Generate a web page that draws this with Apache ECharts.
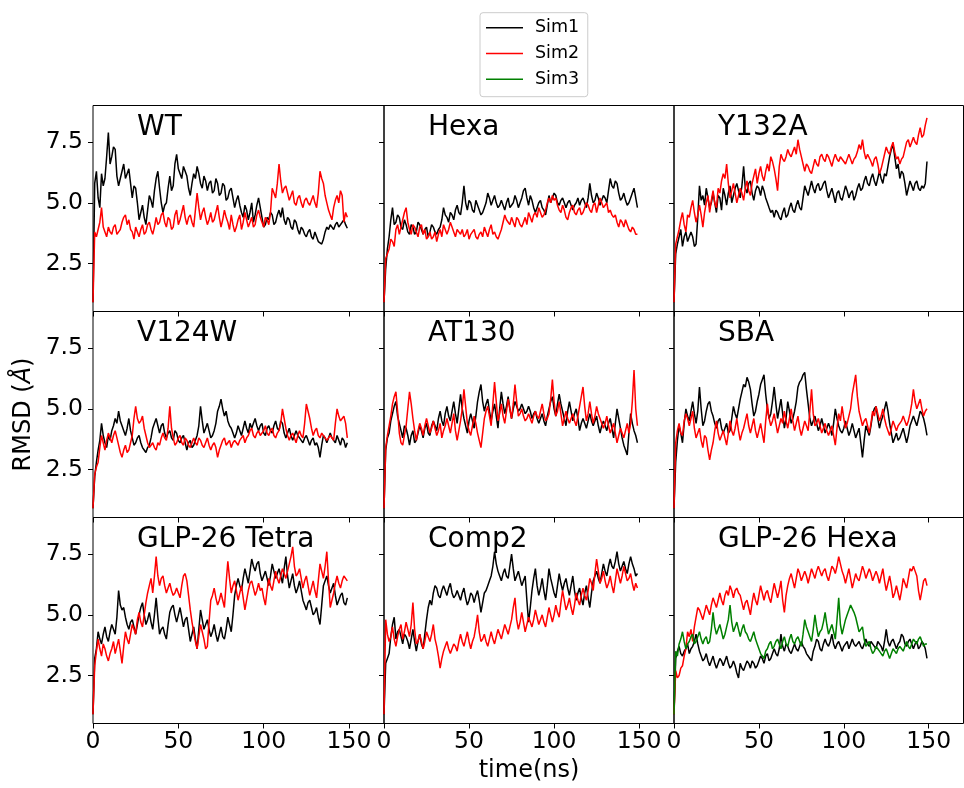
<!DOCTYPE html>
<html><head><meta charset="utf-8">
<script src="https://cdn.jsdelivr.net/npm/echarts@6/dist/echarts.min.js"></script>
<style>html,body{margin:0;padding:0;background:#fff}#c{width:964px;height:788px}</style>
</head><body><div id="c"></div>
<script>
// time (ns)
const time = [0,1,2,3,4,5,6,7,8,9,10,11,12,13,14,15,16,17,18,19,20,21,22,23,24,25,26,27,28,29,
 30,31,32,33,34,35,36,37,38,39,40,41,42,43,44,45,46,47,48,49,50,51,52,53,54,55,56,57,58,59,
 60,61,62,63,64,65,66,67,68,69,70,71,72,73,74,75,76,77,78,79,80,81,82,83,84,85,86,87,88,89,
 90,91,92,93,94,95,96,97,98,99,100,101,102,103,104,105,106,107,108,109,110,111,112,113,114,115,116,117,118,119,
 120,121,122,123,124,125,126,127,128,129,130,131,132,133,134,135,136,137,138,139,140,141,142,143,144,145,146,147,148,149];

const panelTitles = ['WT','Hexa','Y132A','V124W','AT130','SBA','GLP-26 Tetra','Comp2','GLP-26 Hexa'];
const simNames = ['Sim1','Sim2','Sim3'];
const xTicks = [0,50,100,150];
const yTicks = [2.5,5.0,7.5];

const wtSim1 = [0.9,5.8,6.3,5.2,4.8,6.2,5.7,6.0,6.9,7.9,
 6.6,6.9,7.3,7.2,6.1,5.7,6.0,6.3,6.6,6.0,
 6.2,6.4,5.8,5.2,5.7,5.6,5.0,4.3,4.6,4.9,
 4.4,4.1,4.7,5.3,5.1,4.8,5.5,6.0,6.3,5.6,
 5.0,4.6,4.9,5.0,5.6,6.1,5.5,5.7,6.6,7.0,
 6.4,6.2,6.0,6.5,6.3,6.1,5.6,5.3,5.8,6.2,
 6.0,6.5,6.2,5.8,5.6,6.1,5.9,5.5,5.8,5.9,
 5.4,5.5,6.0,5.8,5.3,5.4,5.8,5.7,5.1,5.2,
 5.5,5.6,5.2,4.8,5.1,5.3,4.9,4.6,4.4,4.9,
 4.7,4.3,4.6,5.0,4.2,4.5,4.9,5.2,4.8,4.4,
 4.0,4.1,4.4,4.3,4.6,4.5,4.1,4.2,4.5,4.7,
 4.4,4.8,4.3,4.1,4.4,4.3,4.0,3.9,4.3,4.2,
 3.9,3.7,4.0,3.9,3.7,3.6,3.8,3.9,3.6,3.5,
 3.8,3.6,3.4,3.4,3.3,3.5,3.8,4.0,3.9,4.1,
 4.0,3.9,4.1,4.2,4.0,4.0,4.2,4.3,4.1,3.95];
const wtSim2 = [0.9,3.8,3.6,3.9,4.2,4.8,4.0,3.8,3.6,4.0,
 3.8,3.7,4.0,4.1,3.7,3.8,3.9,4.2,4.4,4.5,
 4.1,4.3,3.9,3.8,3.5,4.0,3.8,3.6,3.9,4.1,
 3.7,3.8,4.1,4.2,3.9,3.7,4.0,4.4,4.1,4.2,
 4.5,4.6,4.2,4.0,4.4,4.3,3.9,4.0,4.5,4.7,
 4.1,4.3,4.6,4.9,4.4,4.1,4.4,4.5,4.2,4.0,
 4.7,5.4,4.8,4.3,4.6,4.8,4.4,4.1,4.3,4.6,
 4.2,4.3,4.6,4.9,4.4,4.0,4.3,4.7,4.4,4.2,
 3.9,4.5,4.1,3.8,4.0,4.3,4.5,3.9,4.2,4.6,
 4.3,4.0,4.2,4.4,4.0,4.1,4.5,4.7,4.4,4.2,
 4.0,4.4,4.3,4.1,4.6,5.6,5.4,5.2,5.8,6.6,
 5.9,5.4,5.6,5.7,5.4,5.1,5.3,5.5,5.0,4.9,
 5.2,5.3,5.0,4.8,5.1,5.2,5.0,4.9,5.1,5.3,
 5.0,4.8,5.4,6.3,6.0,5.8,5.3,5.0,4.7,4.5,
 4.3,4.8,5.1,5.3,5.0,5.5,5.3,4.2,4.6,4.4];
const hexaSim1 = [0.9,2.3,3.1,3.6,4.3,4.8,4.1,4.2,4.5,4.4,
 4.0,3.9,4.3,4.1,3.8,3.7,4.1,4.0,3.7,3.8,
 4.2,4.1,3.9,3.7,3.9,4.0,3.6,3.8,4.1,4.0,
 3.8,3.7,3.9,4.0,4.3,4.8,4.5,4.4,4.2,4.6,
 4.5,4.3,4.7,4.9,4.6,4.5,5.0,5.7,5.0,4.7,
 5.1,5.0,4.7,4.6,5.1,4.9,4.7,4.5,4.6,4.8,
 5.0,5.4,5.2,4.9,5.1,5.3,5.0,4.8,4.9,5.1,
 4.9,4.7,5.0,5.2,4.8,4.9,5.0,5.3,5.1,4.8,
 5.0,5.2,5.5,5.6,5.2,4.9,5.3,5.1,4.8,4.6,
 4.8,5.0,5.1,4.8,4.7,4.5,4.9,5.3,5.0,5.2,
 5.4,5.3,5.0,4.9,5.1,5.2,5.0,4.8,5.0,5.1,
 4.9,4.7,4.9,5.0,5.2,4.9,5.1,5.2,5.0,4.8,
 5.2,5.8,5.3,5.0,5.1,5.4,5.2,4.9,5.1,5.3,
 5.2,5.0,5.5,6.0,5.7,5.6,5.9,5.8,5.4,5.1,
 5.2,5.4,5.1,4.9,5.0,5.2,5.4,5.6,5.2,4.8];
const hexaSim2 = [0.9,2.7,2.9,3.1,3.5,3.4,3.2,3.9,4.1,3.7,
 4.0,4.3,4.6,4.8,4.2,3.9,3.7,4.1,4.0,3.8,
 3.6,4.0,4.1,3.7,3.9,3.5,3.6,3.8,3.5,3.6,
 3.8,3.4,3.7,3.9,3.6,4.1,3.9,3.7,3.9,4.2,
 4.0,3.8,3.6,3.9,3.8,3.7,3.9,3.6,3.7,3.9,
 3.5,3.7,3.8,3.9,3.6,3.5,3.7,3.8,3.6,4.0,
 3.8,3.6,3.9,4.1,3.7,3.8,3.6,3.5,3.7,3.9,
 4.2,4.5,4.3,4.2,4.1,4.4,4.2,4.0,4.4,4.3,
 4.1,4.0,4.2,4.4,4.1,4.6,4.4,4.2,4.5,4.6,
 4.4,4.8,4.6,4.4,4.5,4.7,5.0,5.2,5.0,5.3,
 5.1,5.2,4.9,4.7,4.6,4.9,4.7,4.4,4.3,4.6,
 4.8,4.9,4.6,4.5,4.7,4.8,4.5,4.6,4.8,5.0,
 4.9,4.7,4.6,4.9,5.0,4.6,4.9,5.2,5.0,4.8,
 4.9,5.0,4.6,4.7,4.5,4.4,4.5,4.2,4.0,4.3,
 4.2,4.0,4.3,4.1,3.9,3.8,4.0,3.9,3.7,3.7];
const y132aSim1 = [0.9,2.9,3.3,3.6,3.9,3.2,3.6,3.8,3.4,3.4,
 3.8,3.6,3.2,3.3,4.4,5.7,5.1,5.3,4.9,5.6,
 5.2,4.8,5.0,5.4,5.0,4.6,5.3,5.2,4.7,5.6,
 5.3,4.9,5.4,5.7,5.0,5.3,5.6,5.8,5.5,5.2,
 5.7,6.5,5.6,5.4,5.8,5.9,5.4,5.1,5.5,5.7,
 5.6,5.3,5.7,5.5,5.2,5.0,4.8,4.6,4.7,4.4,
 4.7,4.6,4.4,4.3,4.6,4.8,4.4,4.5,4.8,5.0,
 4.7,4.6,4.9,5.1,4.8,4.7,5.2,5.7,5.5,5.3,
 5.6,5.9,5.6,5.4,5.7,5.8,5.5,5.6,5.8,5.9,
 5.5,5.2,5.4,5.6,5.3,5.0,5.4,5.5,5.2,5.1,
 5.4,5.7,5.5,5.2,5.4,5.5,5.1,5.3,5.6,5.8,
 5.5,5.6,5.9,6.1,5.8,5.7,6.0,6.2,5.9,5.7,
 6.0,6.3,6.0,5.8,6.2,6.1,6.5,6.9,7.2,7.4,
 6.9,6.4,6.6,6.0,6.3,6.2,5.8,5.3,5.6,5.9,
 5.7,5.5,5.8,5.9,5.6,5.5,5.7,5.6,5.8,6.7];
const y132aSim2 = [0.9,3.3,3.6,3.9,4.3,4.6,4.1,3.8,4.5,4.4,
 4.8,5.1,4.6,4.2,4.5,4.9,4.5,4.0,4.6,5.0,
 5.3,4.6,5.1,5.5,5.0,4.8,5.6,5.4,5.9,6.2,
 6.0,6.6,5.8,5.2,5.5,5.8,5.4,5.0,5.3,5.6,
 5.4,5.1,5.6,5.9,5.5,5.3,5.8,6.1,6.4,5.8,
 6.2,6.5,6.1,5.9,6.3,6.6,6.3,6.9,6.7,6.4,
 6.0,5.5,6.5,7.0,6.8,6.7,6.9,7.2,7.0,6.9,
 7.1,7.3,7.0,7.6,7.2,6.9,6.6,6.3,6.6,6.5,
 6.3,6.2,6.5,6.8,6.6,6.5,6.9,7.0,6.8,6.7,
 7.0,6.9,6.7,6.5,6.8,7.0,6.8,6.7,6.9,6.9,
 6.7,6.6,6.8,7.0,6.8,6.6,6.8,6.9,7.1,7.4,
 7.2,7.6,7.1,6.8,7.0,7.0,6.7,6.5,6.8,6.9,
 6.6,6.2,6.4,6.7,7.0,7.3,7.1,7.0,7.3,7.5,
 7.1,6.8,6.9,6.6,6.8,6.9,7.2,7.5,7.6,7.3,
 7.5,7.7,7.5,7.4,7.8,8.1,7.7,7.8,8.2,8.5];
const v124wSim1 = [0.9,2.2,2.8,3.3,3.7,4.4,3.9,3.6,3.4,3.9,
 3.7,4.1,4.3,4.6,4.4,4.9,4.5,4.3,4.1,3.9,
 4.2,4.6,4.1,3.8,3.5,3.6,3.8,3.9,3.6,3.4,
 3.3,3.2,3.4,3.5,3.8,4.2,4.4,4.6,4.3,4.0,
 4.3,4.4,4.0,3.8,4.0,4.1,3.8,3.7,4.1,4.0,
 3.7,3.6,3.8,3.9,3.6,3.3,3.6,3.7,3.4,3.5,
 3.7,3.9,4.3,5.1,4.5,4.0,4.2,4.4,4.1,3.8,
 3.9,4.1,4.4,4.9,5.1,5.4,5.0,4.7,4.9,4.5,
 4.3,4.2,4.0,3.8,4.0,4.3,4.1,3.9,4.2,4.5,
 4.2,4.0,4.4,4.2,4.4,4.6,4.3,4.1,4.3,4.4,
 4.0,3.9,4.2,4.3,4.1,4.0,4.3,4.5,4.2,4.1,
 4.5,4.4,4.0,3.8,4.0,4.2,3.9,3.7,3.9,4.1,
 3.9,3.8,3.7,3.6,3.8,3.9,3.7,3.5,3.7,3.8,
 3.5,3.6,3.4,3.0,3.5,3.9,3.8,3.6,3.8,4.0,
 3.8,3.7,3.6,3.9,3.7,3.5,3.8,3.7,3.4,3.6];
const v124wSim2 = [0.9,2.3,2.6,2.8,3.4,3.9,3.6,3.3,3.7,4.0,
 3.8,3.6,3.9,4.1,3.8,3.5,3.2,3.0,3.3,3.5,
 3.2,3.3,3.6,3.9,4.6,5.1,4.6,4.4,4.5,4.7,
 4.2,3.9,3.6,3.4,3.5,3.6,3.4,3.3,3.6,3.5,
 3.8,4.0,3.8,3.7,4.2,5.1,4.2,3.8,3.5,3.6,
 3.8,3.9,3.6,3.5,3.8,3.7,3.5,3.4,3.6,3.8,
 3.6,3.5,3.8,3.7,3.5,3.4,3.6,3.8,3.5,3.3,
 3.5,3.6,3.4,3.0,3.3,3.5,3.7,3.8,3.5,3.6,
 3.7,3.4,3.6,3.7,3.6,3.5,3.7,3.8,3.9,3.6,
 3.8,3.9,4.1,4.2,3.9,3.8,4.0,4.1,3.9,3.9,
 4.1,4.3,4.0,3.9,4.1,4.2,3.9,3.8,4.0,4.1,
 4.4,5.0,4.6,4.2,3.9,3.7,3.9,4.0,3.8,3.6,
 3.9,4.1,3.9,3.8,4.4,5.2,4.9,4.6,4.2,3.9,
 4.1,4.2,3.9,3.8,4.0,4.0,3.8,3.7,3.8,3.9,
 3.8,3.7,4.4,5.0,4.7,4.5,4.6,4.7,4.4,3.8];
const at130Sim1 = [0.9,3.3,3.8,4.0,4.5,4.8,5.1,5.3,4.7,4.4,
 4.1,3.8,4.3,4.2,3.9,3.5,3.9,4.1,3.6,3.7,
 4.0,4.3,4.1,3.8,4.2,4.4,4.0,3.9,4.3,4.5,
 4.3,4.1,4.6,4.9,4.5,4.3,4.8,5.1,4.7,4.5,
 4.9,5.3,4.8,4.4,5.0,5.6,5.0,4.6,4.3,4.0,
 4.5,4.8,4.5,4.2,4.7,5.3,5.7,6.0,5.3,4.9,
 5.2,5.4,4.9,4.5,4.9,5.2,4.7,4.2,5.0,5.7,
 5.2,4.8,5.1,5.5,5.0,4.6,5.0,5.3,5.1,4.9,
 5.0,5.2,5.0,4.8,4.9,5.1,4.9,4.6,4.8,4.9,
 4.6,4.4,4.6,4.8,4.5,4.3,4.7,5.0,5.3,5.5,
 5.0,4.7,5.2,5.6,5.2,4.9,4.6,4.3,4.9,5.3,
 4.9,4.5,4.8,5.0,4.6,4.1,4.4,4.6,4.4,4.2,
 4.5,4.8,4.5,4.3,4.5,4.7,4.3,4.0,4.3,4.5,
 4.3,4.1,4.4,4.6,4.2,3.8,4.4,5.0,4.6,4.2,
 3.8,3.5,3.3,3.1,4.0,4.8,4.4,4.1,3.9,3.6];
const at130Sim2 = [0.9,3.4,3.9,4.3,4.7,5.2,5.5,5.7,4.9,4.0,
 3.6,3.5,3.9,4.3,5.0,5.7,5.2,4.6,4.1,3.7,
 4.1,4.4,4.2,3.9,4.3,4.6,4.3,4.0,4.2,4.5,
 4.2,3.9,4.1,4.4,3.8,4.1,4.3,4.6,4.3,4.0,
 4.4,4.8,4.1,3.7,4.1,4.5,5.0,5.8,5.1,4.4,
 4.1,3.9,4.3,4.7,4.4,4.0,3.7,3.4,4.0,4.6,
 4.9,5.1,4.7,4.3,5.2,6.1,5.3,4.5,4.8,5.2,
 4.7,4.4,4.9,5.4,5.0,4.6,5.2,6.0,5.3,4.7,
 4.8,5.0,4.7,4.5,4.6,4.8,4.6,4.4,4.7,4.9,
 4.7,4.6,4.9,5.2,4.8,4.5,4.6,4.8,5.4,6.2,
 5.3,4.7,4.9,5.3,4.8,4.3,4.6,4.9,4.6,4.4,
 4.6,4.8,4.5,4.3,4.7,5.1,5.5,5.9,5.1,4.5,
 4.8,5.3,4.8,4.4,4.7,5.1,4.8,4.6,4.4,4.2,
 4.4,4.7,4.3,4.0,4.2,4.4,4.0,3.6,3.9,4.2,
 4.0,3.8,4.1,4.4,4.0,4.4,5.3,6.6,5.0,4.3];
const sbaSim1 = [0.9,2.8,3.7,4.3,4.0,3.6,4.4,5.0,4.7,4.5,
 4.9,5.3,4.8,4.4,4.9,5.9,5.0,4.3,4.5,4.9,
 5.2,5.3,4.9,4.7,4.4,4.2,4.5,4.6,4.2,4.0,
 4.2,4.4,4.0,4.1,4.6,5.1,4.8,4.6,5.0,5.4,
 5.7,6.0,5.9,6.3,6.1,5.8,5.2,4.7,4.9,5.3,
 5.6,6.0,6.2,6.4,5.6,5.0,4.6,4.8,5.3,5.9,
 5.2,4.6,5.0,5.4,4.8,4.2,4.6,5.3,4.9,4.4,
 4.6,4.9,5.3,5.9,6.1,6.2,6.4,6.5,5.8,5.2,
 4.6,4.3,4.5,4.7,4.4,4.1,4.3,4.6,4.3,4.0,
 4.2,4.4,4.2,3.9,4.4,5.0,4.6,4.3,4.1,4.0,
 4.2,4.5,4.2,3.9,4.1,4.4,4.1,3.8,4.0,4.2,
 3.6,3.0,3.7,4.3,4.1,3.9,4.3,4.8,5.0,5.1,
 4.6,4.2,4.5,4.7,5.0,5.3,4.9,4.4,4.0,3.6,
 3.8,4.0,3.7,3.8,4.0,4.2,3.9,3.6,3.9,4.3,
 4.5,4.7,4.5,4.3,4.6,4.9,4.8,4.6,4.3,3.9];
const sbaSim2 = [0.9,3.6,4.1,4.4,4.0,3.9,4.5,4.8,4.6,4.3,
 4.6,4.9,4.2,3.8,4.0,4.2,3.7,3.4,3.9,3.8,
 3.3,2.9,3.3,3.6,4.1,4.5,4.0,3.7,3.9,4.1,
 3.8,3.5,4.0,4.5,4.1,3.9,4.2,4.6,4.1,3.7,
 4.0,4.2,4.5,4.8,4.3,4.0,4.3,4.6,4.1,3.8,
 4.1,4.4,4.0,3.6,4.5,5.2,4.6,4.3,4.5,4.8,
 4.4,4.0,4.3,4.6,4.4,4.9,4.5,4.2,4.6,5.0,
 4.5,4.1,4.4,4.7,4.2,3.9,4.2,4.5,4.3,4.1,
 4.9,5.8,4.8,4.3,4.4,4.6,4.3,4.0,4.2,4.4,
 4.1,3.9,4.1,4.3,3.9,3.5,4.2,4.8,4.5,5.1,
 4.6,4.2,4.4,4.7,5.0,5.6,6.0,6.4,5.5,4.9,
 4.6,4.3,4.5,4.6,4.3,4.0,4.4,4.9,4.7,5.1,
 4.8,4.5,4.7,5.0,4.6,4.3,4.1,3.9,4.2,4.5,
 4.3,4.1,4.3,4.4,4.5,4.7,4.5,4.3,4.5,4.8,
 5.2,5.8,5.3,5.0,5.2,5.4,5.0,4.7,4.9,5.0];
const tetraSim1 = [0.9,3.2,3.6,4.3,4.0,3.8,4.2,4.5,4.1,3.9,
 4.3,4.6,4.4,4.2,4.9,6.0,5.4,5.2,5.3,4.9,
 4.6,4.4,4.7,4.8,4.5,4.2,4.6,5.0,5.3,5.5,
 5.0,4.6,4.8,5.1,4.7,4.4,5.0,5.7,4.9,4.2,
 4.4,4.5,4.2,4.0,4.6,5.1,5.3,5.4,5.0,4.7,
 5.0,5.3,4.9,4.5,4.8,4.9,4.4,3.9,4.2,4.5,
 4.0,3.6,4.4,5.2,4.8,4.4,4.6,4.8,4.4,4.1,
 4.3,4.6,4.2,3.9,4.2,4.5,4.1,4.0,4.4,4.9,
 4.6,4.3,5.0,5.8,6.2,6.5,6.2,6.0,6.5,6.9,
 6.6,6.3,6.8,7.3,7.0,6.8,7.1,7.2,6.7,6.4,
 6.6,6.8,6.5,6.2,6.6,7.1,6.8,6.5,6.7,6.9,
 6.6,6.3,6.9,7.4,6.6,6.1,6.4,6.7,6.2,5.9,
 6.1,6.4,6.0,5.6,5.4,5.2,5.5,5.6,5.3,5.0,
 5.1,5.3,4.9,4.6,5.4,6.2,6.4,6.6,6.2,5.9,
 6.1,6.3,5.8,5.4,5.6,5.8,5.9,5.5,5.4,5.7];
const tetraSim2 = [0.9,2.9,3.5,4.0,3.6,3.3,3.8,3.6,3.3,3.1,
 3.4,3.6,3.9,3.4,3.7,4.0,3.5,3.0,3.7,4.3,
 4.0,3.8,4.2,4.6,4.4,4.2,4.8,5.1,4.7,4.5,
 5.0,5.5,5.9,6.2,6.5,5.9,6.6,7.4,6.6,6.2,
 6.5,6.6,6.2,5.9,6.1,6.3,6.0,5.8,5.9,6.1,
 5.9,5.7,6.2,6.6,6.7,6.4,5.8,5.2,4.7,4.3,
 3.9,3.6,4.1,4.6,4.3,4.0,3.6,3.7,4.7,5.6,
 5.8,6.1,5.7,5.4,5.6,5.9,5.6,5.3,6.3,7.2,
 6.5,5.9,6.2,6.4,6.0,5.6,5.9,6.2,5.7,5.2,
 5.6,6.0,6.3,6.4,6.1,5.8,6.0,6.3,6.0,6.1,
 5.7,5.4,6.0,6.5,6.2,6.0,6.4,6.8,6.5,6.3,
 6.6,6.9,6.7,6.5,6.8,7.1,7.4,7.8,7.0,6.6,
 6.7,6.9,6.5,6.1,6.4,6.6,6.2,5.8,6.1,6.4,
 6.0,5.7,6.4,7.1,6.8,6.5,7.0,7.6,6.4,5.3,
 5.6,5.9,6.3,6.6,6.3,6.1,6.4,6.6,6.5,6.4];
const comp2Sim1 = [0.9,3.0,3.2,3.4,4.1,4.6,4.9,4.0,4.3,4.4,
 4.1,3.8,4.2,4.1,3.9,3.6,4.0,4.4,3.9,3.5,
 3.9,4.2,3.8,3.6,4.2,4.8,5.3,5.6,5.4,5.9,
 6.2,6.1,5.8,5.7,6.0,6.2,6.0,5.8,6.1,6.3,
 5.9,5.7,5.8,6.0,5.8,5.6,5.9,6.1,5.7,5.4,
 5.6,5.9,5.8,5.5,5.8,6.0,5.6,5.1,5.5,5.9,
 6.0,6.2,6.4,6.6,7.0,7.6,7.1,6.8,6.6,6.4,
 6.7,6.9,6.6,6.5,7.0,7.5,6.9,6.4,6.6,6.8,
 6.5,6.2,6.4,6.6,5.6,4.7,5.3,6.0,6.5,6.9,
 6.2,5.8,6.1,6.5,6.0,5.6,6.2,6.9,6.5,6.2,
 5.9,5.7,6.2,6.7,6.3,6.0,6.3,6.5,6.1,5.8,
 6.2,6.6,6.0,5.6,5.9,6.1,5.7,5.4,5.9,6.2,
 5.7,5.3,5.9,6.4,6.6,6.8,6.5,6.3,6.7,7.1,
 6.8,6.6,7.0,7.3,7.0,6.9,7.2,7.6,7.1,6.8,
 7.0,7.2,6.9,6.7,7.1,7.4,7.1,6.9,6.6,6.7];
const comp2Sim2 = [0.9,4.8,4.2,3.9,4.1,4.5,4.0,3.7,4.1,4.4,
 4.6,4.0,4.3,4.7,4.4,4.1,4.6,5.5,4.4,3.8,
 3.9,4.2,3.9,3.6,3.9,4.3,4.1,3.9,4.2,4.6,
 4.0,3.7,3.3,2.8,3.2,3.5,3.7,3.9,3.6,3.4,
 3.6,3.8,3.7,3.5,3.9,4.2,3.9,3.7,4.0,4.3,
 3.9,3.6,3.9,4.1,4.5,5.0,4.3,3.9,4.0,4.2,
 3.9,3.7,4.0,4.3,4.0,3.8,4.1,4.4,4.2,4.0,
 4.3,4.6,4.4,4.2,4.5,4.8,5.3,5.7,4.8,4.4,
 4.7,5.1,4.7,4.3,4.6,4.9,4.7,4.5,4.8,5.2,
 4.9,4.6,4.8,5.0,4.7,4.5,4.9,5.3,5.0,4.7,
 5.0,5.4,5.1,4.9,5.5,6.0,5.6,5.2,5.4,5.7,
 5.3,5.0,5.4,5.9,5.6,5.4,5.8,6.1,5.8,5.6,
 6.0,6.5,6.3,6.0,6.7,7.3,6.8,6.3,6.5,6.8,
 6.4,6.1,6.3,6.6,6.2,5.9,6.4,6.9,6.6,6.3,
 6.6,7.0,6.7,6.4,6.5,6.7,6.3,6.0,6.3,6.1];
const glpHexaSim1 = [0.9,3.2,3.5,3.7,3.4,3.3,3.5,3.6,3.8,3.4,
 3.6,3.7,3.9,4.2,3.8,3.5,3.3,3.1,3.2,3.4,
 3.1,2.9,3.1,3.3,3.0,2.8,3.0,3.2,3.1,2.9,
 3.1,3.3,3.0,2.8,2.9,3.1,2.9,2.6,2.4,3.0,
 2.8,2.7,2.9,3.1,3.0,2.8,3.1,3.0,2.8,2.9,
 3.1,3.3,3.2,3.0,3.3,3.4,3.1,3.2,3.4,3.6,
 3.4,3.3,3.6,4.2,3.7,3.5,3.8,3.7,3.5,3.4,
 3.6,3.8,3.6,3.5,3.7,3.9,3.7,3.6,3.4,3.3,
 3.2,3.1,3.5,3.7,4.0,3.9,3.6,3.5,3.8,4.0,
 3.8,3.7,3.9,4.2,3.8,3.6,3.8,3.9,3.7,3.5,
 3.7,3.8,3.9,3.6,3.8,4.0,3.8,3.7,3.8,3.9,
 3.7,3.6,3.8,4.0,3.8,3.7,3.9,3.9,3.7,3.6,
 3.9,3.8,3.7,3.5,3.9,4.4,3.9,3.7,3.9,4.0,
 3.8,3.6,3.8,3.9,4.2,4.1,3.8,3.7,3.9,4.0,
 3.8,3.6,3.8,3.9,3.6,3.7,3.9,3.8,3.6,3.2];
const glpHexaSim2 = [0.9,2.7,2.4,2.5,2.8,2.9,3.3,3.6,4.3,4.1,
 4.4,3.9,4.5,4.9,5.3,5.2,5.0,4.8,5.1,5.4,
 5.2,5.0,5.4,5.7,5.5,5.3,5.6,5.9,5.6,5.4,
 5.8,6.0,5.8,6.2,6.0,5.7,6.0,6.1,5.9,5.8,
 5.5,5.2,5.5,5.6,5.3,5.0,5.5,5.9,5.6,5.4,
 5.8,6.2,5.9,5.6,5.9,6.0,5.7,5.5,5.9,6.3,
 6.0,5.7,6.0,6.4,5.6,5.1,5.8,6.2,6.5,6.7,
 6.4,6.1,6.5,6.9,6.7,6.4,6.6,6.8,6.6,6.3,
 6.6,6.9,6.7,6.5,6.8,7.0,6.8,6.6,6.8,6.9,
 6.6,6.4,6.7,7.0,6.9,6.7,7.0,7.4,7.1,6.8,
 6.6,6.3,6.6,6.9,6.5,6.1,6.4,6.7,6.5,6.4,
 6.7,7.0,6.8,6.5,6.7,6.9,6.7,6.4,6.6,6.8,
 6.6,6.3,6.6,6.9,6.4,6.0,6.3,6.6,6.2,5.7,
 5.9,6.2,5.9,5.6,6.0,6.5,6.3,6.1,6.5,6.9,
 6.8,7.0,6.8,6.6,6.0,5.6,6.0,6.4,6.5,6.2];
const glpHexaSim3 = [0.9,3.5,3.3,3.8,4.0,4.3,3.9,3.6,3.8,3.9,
 4.1,4.2,3.8,3.9,4.1,4.3,4.0,3.8,4.0,4.1,
 3.8,3.9,4.4,5.1,4.5,4.2,4.4,4.6,4.3,4.0,
 4.2,4.5,4.8,5.4,4.7,4.3,4.5,4.7,4.4,4.1,
 4.4,4.6,4.3,4.2,4.0,3.9,4.1,4.3,4.0,3.8,
 3.6,3.4,3.3,3.2,3.5,3.6,3.8,3.9,3.6,3.7,
 3.9,4.0,3.8,3.6,3.9,4.1,3.8,3.7,4.0,4.2,
 3.9,3.8,4.0,4.1,3.9,3.7,4.2,4.8,4.5,4.3,
 4.1,3.9,4.4,5.0,4.5,4.1,4.3,4.4,4.7,5.1,
 4.6,4.2,4.4,4.6,4.3,4.0,4.8,5.7,4.6,4.2,
 4.5,4.8,5.0,5.2,5.4,5.4,5.1,4.9,4.6,4.3,
 4.4,4.5,4.0,3.7,3.8,3.9,3.6,3.4,3.5,3.7,
 3.6,3.5,3.4,3.3,3.5,3.6,3.4,3.2,3.4,3.6,
 3.5,3.4,3.6,3.7,3.6,3.5,3.7,3.9,3.7,3.6,
 3.8,4.0,3.9,3.8,4.0,4.1,3.9,3.7,3.8,3.8];

const panelSims = [
  [wtSim1, wtSim2],
  [hexaSim1, hexaSim2],
  [y132aSim1, y132aSim2],
  [v124wSim1, v124wSim2],
  [at130Sim1, at130Sim2],
  [sbaSim1, sbaSim2],
  [tetraSim1, tetraSim2],
  [comp2Sim1, comp2Sim2],
  [glpHexaSim1, glpHexaSim2, glpHexaSim3]
];
const simColors = ['#000000','#ff0000','#008000'];

// layout
const colLeft = [93, 384, 674];
const colWidth = [291, 290, 289.5];
const rowTop = [105.5, 311.5, 517.5];
const rowHeight = 206;
const X_MIN = 0, X_MAX = 170.5, Y_MIN = 0.52, Y_MAX = 9.01;
const FONT = 'DejaVu Sans';

const grids = [], xAxes = [], yAxes = [], series = [], graphics = [];
for (let p = 0; p < 9; p++) {
  const r = Math.floor(p / 3), c = p % 3;
  grids.push({left: colLeft[c], top: rowTop[r], width: colWidth[c], height: rowHeight,
    show: true, borderColor: '#000', borderWidth: 1, backgroundColor: 'transparent', containLabel: false});
  const xa = {
    type: 'value', gridIndex: p, min: X_MIN, max: X_MAX,
    axisLine: {show: false}, splitLine: {show: false},
    axisTick: {show: true, inside: false, length: 5, lineStyle: {color: '#000', width: 1}, customValues: xTicks},
    axisLabel: {show: r === 2, margin: 6, customValues: xTicks, color: '#000', fontSize: 23.5, fontFamily: FONT,
      formatter: v => String(v)}
  };
  if (p === 7) {
    xa.name = 'time(ns)'; xa.nameLocation = 'middle'; xa.nameGap = 35;
    xa.nameTextStyle = {fontSize: 24, fontFamily: FONT, color: '#000'};
  }
  xAxes.push(xa);
  const ya = {
    type: 'value', gridIndex: p, min: Y_MIN, max: Y_MAX,
    axisLine: {show: false}, splitLine: {show: false},
    axisTick: {show: true, inside: false, length: 5, lineStyle: {color: '#000', width: 1}, customValues: yTicks},
    axisLabel: {show: c === 0, margin: 10, customValues: yTicks, color: '#000', fontSize: 23.5, fontFamily: FONT,
      formatter: v => v.toFixed(1)}
  };
  if (p === 3) {
    ya.name = '{a|RMSD (}{b|Å}{a|)}'; ya.nameLocation = 'middle'; ya.nameGap = 57; ya.nameRotate = 90;
    ya.nameTextStyle = {fontSize: 24, fontFamily: FONT, color: '#000',
      rich: {a: {fontSize: 24, fontFamily: FONT, color: '#000'}, b: {fontSize: 24, fontFamily: FONT, fontStyle: 'italic', color: '#000'}}};
  }
  yAxes.push(ya);
  panelSims[p].forEach((vals, k) => {
    series.push({
      type: 'line', name: simNames[k], xAxisIndex: p, yAxisIndex: p,
      data: time.map((t, i) => [t, vals[i]]),
      symbol: 'none', showSymbol: false, animation: false,
      lineStyle: {color: simColors[k], width: 1.5},
      itemStyle: {color: simColors[k]}, z: 2 + k
    });
  });
  graphics.push({
    type: 'text', left: colLeft[c] + 44, top: rowTop[r] + 8,
    style: {text: panelTitles[p], fontSize: 28, fontFamily: FONT, fill: '#000'}
  });
}

const chart = echarts.init(document.getElementById('c'), null, {renderer: 'canvas'});
chart.setOption({
  animation: false,
  backgroundColor: '#fff',
  grid: grids, xAxis: xAxes, yAxis: yAxes, series: series,
  graphic: graphics,
  legend: {
    data: simNames, orient: 'vertical', left: 480, top: 12.7,
    icon: 'rect', itemWidth: 37, itemHeight: 1.5, itemGap: 7.8,
    padding: [6, 8.6, 8.4, 6],
    borderColor: '#cccccc', borderWidth: 1, borderRadius: 3, backgroundColor: '#fff',
    textStyle: {fontSize: 17.5, fontFamily: FONT, color: '#000', padding: [0, 0, 0, 7], lineHeight: 18}
  }
});
</script></body></html>
